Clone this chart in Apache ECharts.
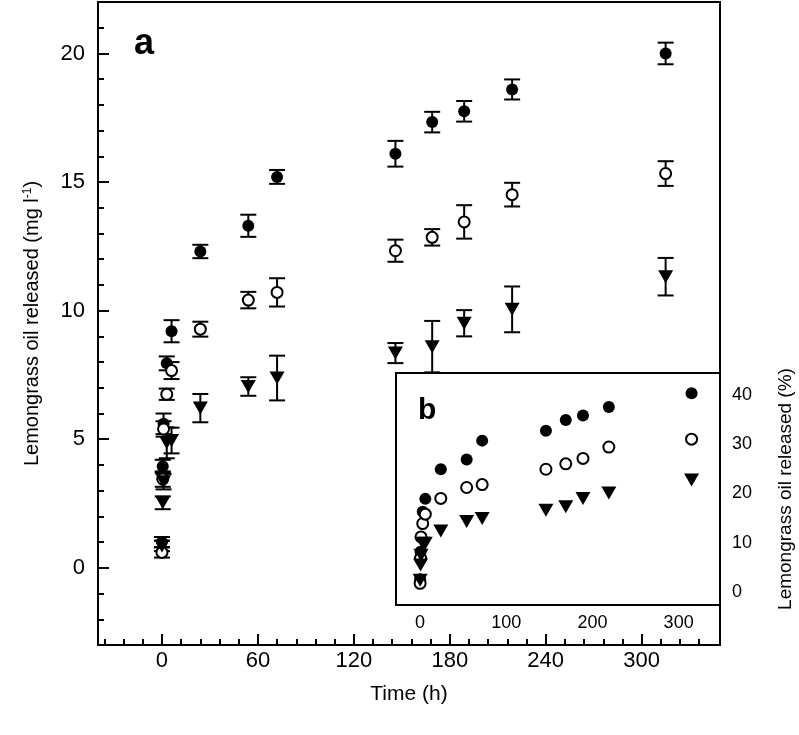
<!DOCTYPE html>
<html>
<head>
<meta charset="utf-8">
<script src="https://cdn.jsdelivr.net/npm/echarts@6/dist/echarts.min.js"></script>
<style>html,body{margin:0;padding:0;background:#fff;}#c{width:799px;height:735px;}</style>
</head>
<body>
<div id="c"></div>
<script>
// ---- data ----
const timeH = [0, 0.5, 1, 3, 6, 24, 54, 72, 146, 169, 189, 219, 315];
// main panel (mg l-1)
const filledMg = [1.0, 3.95, 5.6, 7.95, 9.2, 12.3, 13.3, 15.2, 16.1, 17.33, 17.75, 18.6, 20.0];
const filledErr = [0.2, 0.25, 0.4, 0.27, 0.43, 0.26, 0.43, 0.27, 0.5, 0.4, 0.4, 0.39, 0.42];
const hollowMg = [0.6, 3.45, 5.4, 6.75, 7.67, 9.28, 10.41, 10.71, 12.33, 12.85, 13.45, 14.51, 15.33];
const hollowErr = [0.2, 0.3, 0.3, 0.22, 0.33, 0.29, 0.32, 0.55, 0.43, 0.32, 0.65, 0.46, 0.48];
const triMg = [0.85, 2.53, 3.35, 4.86, 4.95, 6.21, 7.05, 7.38, 8.35, 8.6, 9.51, 10.05, 11.32];
const triErr = [0.2, 0.25, 0.3, 0.6, 0.5, 0.55, 0.36, 0.87, 0.39, 1.0, 0.51, 0.89, 0.73];
// inset panel (%)
const filledPct = [2.6, 8.2, 11.2, 16.3, 18.9, 24.9, 26.9, 30.7, 32.7, 34.9, 35.8, 37.5, 40.3];
const hollowPct = [1.8, 6.9, 11.2, 13.9, 15.8, 19.0, 21.2, 21.8, 24.9, 26.0, 27.1, 29.4, 31.0];
const triPct = [2.4, 5.5, 7.5, 9.9, 9.9, 12.4, 14.3, 14.9, 16.6, 17.3, 19.0, 20.1, 22.7];
// ticks
const mainXMajor = [0, 60, 120, 180, 240, 300];
const mainXMinor = [-36, -24, -12, 12, 24, 36, 48, 72, 84, 96, 108, 132, 144, 156, 168, 192, 204, 216, 228, 252, 264, 276, 288, 312, 324, 336];
const mainYMajor = [0, 5, 10, 15, 20];
const mainYMinor = [-2, -1, 1, 2, 3, 4, 6, 7, 8, 9, 11, 12, 13, 14, 16, 17, 18, 19, 21];
const insetXMajor = [0, 100, 200, 300];
const insetXMinor = [-20, 20, 40, 60, 80, 120, 140, 160, 180, 220, 240, 260, 280, 320, 340];
const insetYMajor = [0, 10, 20, 30, 40];
const insetYMinor = [-2, 2, 4, 6, 8, 12, 14, 16, 18, 22, 24, 26, 28, 32, 34, 36, 38, 42, 44];

const FONT = "'Liberation Sans', Arial, Helvetica, sans-serif";
const pts = (ys) => timeH.map((t, i) => [t, ys[i]]);
const errPts = (ys, es) => timeH.map((t, i) => [t, ys[i], es[i]]);

function errRender(params, api) {
  const x = api.value(0), y = api.value(1), e = api.value(2);
  const a = api.coord([x, y + e]);
  const b = api.coord([x, y - e]);
  const hw = 8;
  const st = { stroke: '#000', lineWidth: 2 };
  return { type: 'group', children: [
    { type: 'line', shape: { x1: a[0], y1: a[1], x2: b[0], y2: b[1] }, style: st },
    { type: 'line', shape: { x1: a[0] - hw, y1: a[1], x2: a[0] + hw, y2: a[1] }, style: st },
    { type: 'line', shape: { x1: b[0] - hw, y1: b[1], x2: b[0] + hw, y2: b[1] }, style: st }
  ]};
}

const MAIN = { left: 98, top: 2, right: 79, bottom: 90 };
const INSET = { left: 396, top: 373, right: 79, bottom: 130 };

function valAxis(o) {
  return Object.assign({
    type: 'value', splitLine: { show: false },
    axisLine: { show: false, onZero: false },
    axisLabel: { show: false }
  }, o);
}
function tick(len, vals) {
  return { show: true, inside: true, length: len, customValues: vals, lineStyle: { color: '#000', width: 2 } };
}

const chart = echarts.init(document.getElementById('c'), null, { renderer: 'canvas' });
const option = {
  animation: false,
  backgroundColor: '#fff',
  grid: [
    Object.assign({ show: true, borderColor: '#000', borderWidth: 2, backgroundColor: 'transparent' }, MAIN),
    Object.assign({ show: true, borderColor: '#000', borderWidth: 2, backgroundColor: '#fff', z: 5 }, INSET)
  ],
  xAxis: [
    valAxis({ gridIndex: 0, min: -40, max: 349, position: 'bottom',
      axisTick: tick(11, mainXMajor),
      axisLabel: { show: true, customValues: mainXMajor, fontSize: 22, color: '#000', fontFamily: FONT, margin: 5 },
      name: 'Time (h)', nameLocation: 'middle', nameGap: 39,
      nameTextStyle: { fontSize: 21, color: '#000', fontFamily: FONT } }),
    valAxis({ gridIndex: 0, min: -40, max: 349, position: 'bottom', axisTick: tick(6, mainXMinor) }),
    valAxis({ gridIndex: 1, min: -28, max: 348, position: 'bottom',
      axisTick: tick(8, insetXMajor),
      axisLabel: { show: true, customValues: insetXMajor, fontSize: 18, color: '#000', fontFamily: FONT, margin: 9 } }),
    valAxis({ gridIndex: 1, min: -28, max: 348, position: 'bottom', axisTick: tick(5, insetXMinor) })
  ],
  yAxis: [
    valAxis({ gridIndex: 0, min: -3, max: 22, position: 'left',
      axisTick: tick(11, mainYMajor),
      axisLabel: { show: true, customValues: mainYMajor, fontSize: 22, color: '#000', fontFamily: FONT, margin: 13 },
      name: '{t|Lemongrass oil released (mg l}{s|-1}{t|)}', nameLocation: 'middle', nameGap: 56, nameRotate: 90,
      nameTextStyle: { color: '#000', fontFamily: FONT, fontSize: 20,
        rich: { t: { fontSize: 20, fontFamily: FONT, color: '#000' }, s: { fontSize: 12, fontFamily: FONT, color: '#000', verticalAlign: 'top' } } } }),
    valAxis({ gridIndex: 0, min: -3, max: 22, position: 'left', axisTick: tick(6, mainYMinor) }),
    valAxis({ gridIndex: 1, min: -2.6, max: 44.4, position: 'right',
      axisTick: tick(8, insetYMajor),
      axisLabel: { show: true, customValues: insetYMajor, fontSize: 18, color: '#000', fontFamily: FONT, margin: 12 },
      name: 'Lemongrass oil released (%)', nameLocation: 'middle', nameGap: 56, nameRotate: 90,
      nameTextStyle: { fontSize: 19, color: '#000', fontFamily: FONT } }),
    valAxis({ gridIndex: 1, min: -2.6, max: 44.4, position: 'right', axisTick: tick(5, insetYMinor) }),
    valAxis({ gridIndex: 1, min: -2.6, max: 44.4, position: 'left', axisTick: tick(8, insetYMajor) }),
    valAxis({ gridIndex: 1, min: -2.6, max: 44.4, position: 'left', axisTick: tick(5, insetYMinor) })
  ],
  graphic: [
    { type: 'text', left: 134, top: 26, z: 100, style: { text: 'a', font: "bold 36px " + FONT, fill: '#000' } },
    { type: 'text', left: 418, top: 396, z: 100, style: { text: 'b', font: "bold 30px " + FONT, fill: '#000' } }
  ],
  series: [
    { type: 'custom', xAxisIndex: 0, yAxisIndex: 0, renderItem: errRender, data: errPts(filledMg, filledErr), z: 2, silent: true },
    { type: 'custom', xAxisIndex: 0, yAxisIndex: 0, renderItem: errRender, data: errPts(hollowMg, hollowErr), z: 2, silent: true },
    { type: 'custom', xAxisIndex: 0, yAxisIndex: 0, renderItem: errRender, data: errPts(triMg, triErr), z: 2, silent: true },
    { type: 'scatter', xAxisIndex: 0, yAxisIndex: 0, data: pts(filledMg), symbol: 'circle', symbolSize: 12, z: 3,
      itemStyle: { color: '#000', opacity: 1 } },
    { type: 'scatter', xAxisIndex: 0, yAxisIndex: 0, data: pts(hollowMg), symbol: 'circle', symbolSize: 11, z: 3,
      itemStyle: { color: '#fff', borderColor: '#000', borderWidth: 2, opacity: 1 } },
    { type: 'scatter', xAxisIndex: 0, yAxisIndex: 0, data: pts(triMg), symbol: 'triangle', symbolRotate: 180, symbolSize: [15, 13], z: 3,
      itemStyle: { color: '#000', opacity: 1 } },
    { type: 'scatter', xAxisIndex: 2, yAxisIndex: 2, data: pts(filledPct), symbol: 'circle', symbolSize: 12, z: 6,
      itemStyle: { color: '#000', opacity: 1 } },
    { type: 'scatter', xAxisIndex: 2, yAxisIndex: 2, data: pts(hollowPct), symbol: 'circle', symbolSize: 11, z: 6,
      itemStyle: { color: '#fff', borderColor: '#000', borderWidth: 2, opacity: 1 } },
    { type: 'scatter', xAxisIndex: 2, yAxisIndex: 2, data: pts(triPct), symbol: 'triangle', symbolRotate: 180, symbolSize: [15, 13], z: 6,
      itemStyle: { color: '#000', opacity: 1 } }
  ]
};
chart.setOption(option);
</script>
</body>
</html>
